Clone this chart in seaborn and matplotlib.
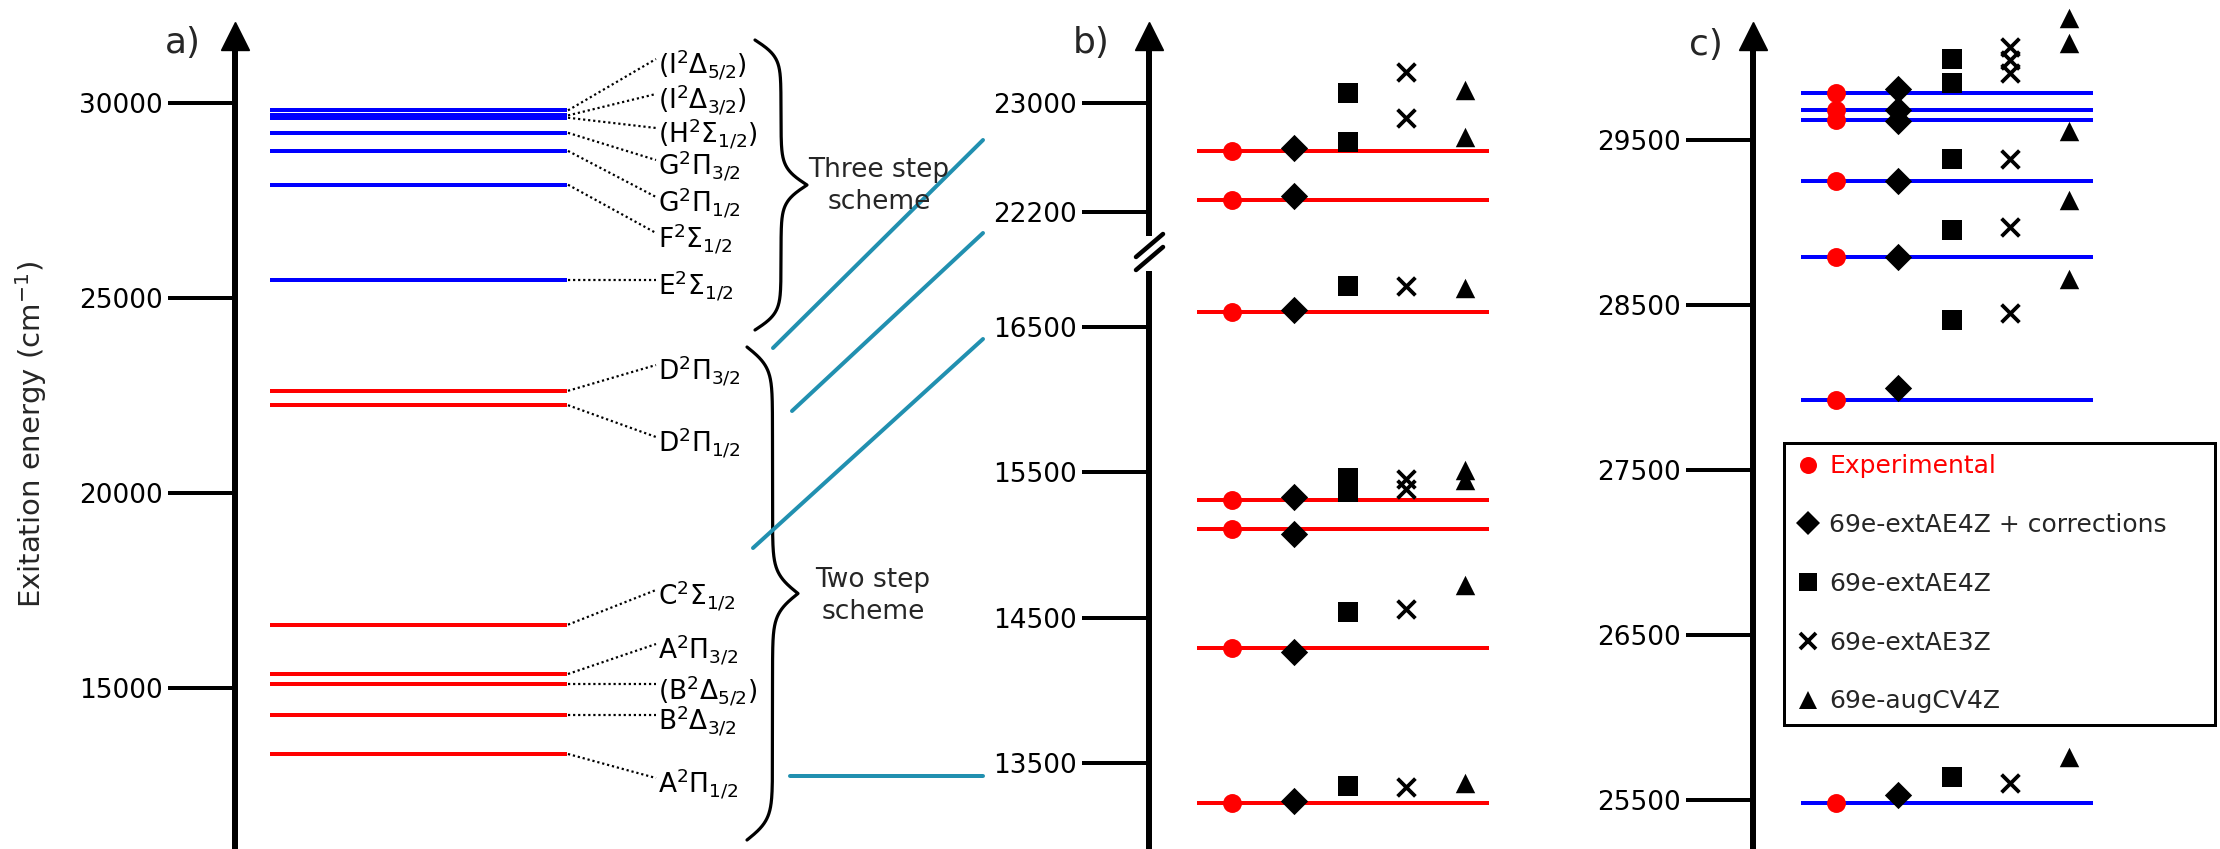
import numpy as np
import pandas as pd
import matplotlib
matplotlib.use("Agg")
import matplotlib.pyplot as plt
import matplotlib.transforms as mtransforms
from matplotlib.lines import Line2D
import seaborn as sns

sns.set_theme(style="white")
plt.rcParams["font.family"] = ["DejaVu Sans"]
plt.rcParams["mathtext.fontset"] = "dejavusans"

# ---------------------------------------------------------------- data
# Panel a: experimental level scheme (cm^-1)
two_step_states = [r"A$^2\Pi_{1/2}$", r"B$^2\Delta_{3/2}$", r"(B$^2\Delta_{5/2}$)",
                   r"A$^2\Pi_{3/2}$", r"C$^2\Sigma_{1/2}$", r"D$^2\Pi_{1/2}$",
                   r"D$^2\Pi_{3/2}$"]
three_step_states = [r"E$^2\Sigma_{1/2}$", r"F$^2\Sigma_{1/2}$", r"G$^2\Pi_{1/2}$",
                     r"G$^2\Pi_{3/2}$", r"(H$^2\Sigma_{1/2}$)", r"(I$^2\Delta_{3/2}$)",
                     r"(I$^2\Delta_{5/2}$)"]
two_step_levels = [13308, 14308, 15094, 15359, 16624, 22251, 22620]
three_step_levels = [25473, 27904, 28771, 29235, 29622, 29682, 29811]
# where each state name sits on the energy axis of panel a
two_step_label_at = [12692, 14308, 15094, 16128, 17513, 21436, 23282]
three_step_label_at = [25473, 26667, 27590, 28538, 29359, 30231, 31128]

methods = ["Experimental", "69e-extAE4Z + corrections", "69e-extAE4Z",
           "69e-extAE3Z", "69e-augCV4Z"]

# Panel b: two-step states (order as two_step_states)
b_exp = [13219, 14288, 15110, 15310, 16608, 22286, 22648]
b_corr = [13235, 14260, 15073, 15328, 16619, 22317, 22667]
b_ae4z = [13341, 14540, 15367, 15463, 16785, 22716, 23071]
b_ae3z = [13334, 14557, 15384, 15452, 16787, 22887, 23230]
b_cv4z = [13357, 14724, 15448, 15517, 16771, 22753, 23095]

# Panel c: three-step states (order as three_step_states)
c_exp = [25478, 27924, 28789, 29252, 29622, 29681, 29788]
c_corr = [25528, 27998, 28793, 29252, 29616, 29683, 29810]
c_ae4z = [25639, 28409, 28955, 29384, np.nan, 29848, 29990]
c_ae3z = [25603, 28453, 28975, 29384, 29905, 29986, 30067]
c_cv4z = [25757, 28660, 29137, 29557, np.nan, 30087, 30239]

a_ticks = [15000, 20000, 25000, 30000]
b_ticks_low = [13500, 14500, 15500, 16500]
b_ticks_high = [22200, 23000]
c_ticks = [25500, 26500, 27500, 28500, 29500]

# ---------------------------------------------------------------- style
RED, BLUE, TEAL = "#ff0000", "#0000ff", "#2190b0"
W, H, DPI = 2220, 849, 100
PT = 0.72  # points per pixel at this dpi
FS = 19

marker_spec = {
    "Experimental": dict(marker="o", color=RED, ms=13.6),
    "69e-extAE4Z + corrections": dict(marker="D", color="black", ms=13.9),
    "69e-extAE4Z": dict(marker="s", color="black", ms=14.2),
    "69e-extAE3Z": dict(marker="x", color="black", ms=12.8),
    "69e-augCV4Z": dict(marker="^", color="black", ms=14.0),
}
column_x = dict(zip(methods, [83, 145, 199, 257, 316]))
line_span = (48, 340)

fig = plt.figure(figsize=(W / DPI, H / DPI), dpi=DPI)


def px_axes(left, top, right, bottom):
    return fig.add_axes([left / W, 1 - bottom / H, (right - left) / W, (bottom - top) / H])


def energy_axis(ax, ticks, arrow=True):
    for side in ("top", "right", "bottom"):
        ax.spines[side].set_visible(False)
    ax.spines["left"].set_linewidth(6 * PT)
    ax.spines["left"].set_color("black")
    ax.set_yticks(ticks)
    ax.set_yticklabels([str(t) for t in ticks])
    ax.tick_params(axis="y", left=True, direction="out", length=67 * PT, width=4 * PT,
                   labelsize=FS, pad=4, colors="black")
    ax.set_xticks([])
    ax.patch.set_alpha(0)
    ax.grid(False)
    if arrow:
        tr = mtransforms.offset_copy(ax.transAxes, fig=fig, y=12.5, units="dots")
        ax.plot([0], [1], marker="^", ms=28 * PT, color="black", transform=tr,
                clip_on=False)


def draw_markers(ax, df):
    for m in methods:
        sub = df[(df["method"] == m) & df["energy"].notna()]
        if sub.empty:
            continue
        spec = marker_spec[m]
        kw = dict(marker=spec["marker"], s=spec["ms"] ** 2, color=spec["color"],
                  legend=False, zorder=4, ax=ax)
        kw["linewidth"] = 3.8 * PT if spec["marker"] == "x" else 0
        sns.scatterplot(data=sub, x="x", y="energy", **kw)
        ax.collections[-1].set_clip_on(False)


def long_table(states, series):
    rows = []
    for m, vals in zip(methods, series):
        for st, v in zip(states, vals):
            rows.append(dict(state=st, method=m, energy=v, x=column_x[m]))
    return pd.DataFrame(rows)


# ---------------------------------------------------------------- panel a
ax_a = px_axes(235, 48, 1000, 849)
ax_a.set_xlim(0, 765)
ax_a.set_ylim(10872, 31410)
energy_axis(ax_a, a_ticks)
label_shift = mtransforms.offset_copy(ax_a.transData, fig=fig, y=-6, units="dots")

for levels, labels, anchors, col in ((two_step_levels, two_step_states, two_step_label_at, RED),
                                     (three_step_levels, three_step_states, three_step_label_at, BLUE)):
    ax_a.hlines(levels, 35, 332, color=col, lw=4 * PT, zorder=3)
    for lv, lab, an in zip(levels, labels, anchors):
        ax_a.plot([333, 421], [lv, an], ls=(0, (1, 1.3)), color="black", lw=2.2 * PT,
                  zorder=2)
        ax_a.text(423, an, lab, fontsize=19, ha="left", va="center",
                  color="black", transform=label_shift)

fig.text(31 / W, 1 - 434 / H, "Exitation energy (cm$^{-1}$)", rotation=90,
         ha="center", va="center", fontsize=21)

# ---------------------------------------------------------------- panel b
df_b = long_table(two_step_states, [b_exp, b_corr, b_ae4z, b_ae3z, b_cv4z])
ax_bh = px_axes(1149, 48, 1560, 233)
ax_bl = px_axes(1149, 274, 1560, 849)
ax_bh.set_ylim(22046, 23404)
ax_bl.set_ylim(12905, 16867)
for ax, ticks, arrow, lo, hi in ((ax_bh, b_ticks_high, True, 20000, 30000),
                                 (ax_bl, b_ticks_low, False, 0, 20000)):
    ax.set_xlim(0, 411)
    energy_axis(ax, ticks, arrow)
    exp_part = [v for v in b_exp if lo <= v < hi]
    ax.hlines(exp_part, *line_span, color=RED, lw=4 * PT, zorder=2)
    part = df_b[(df_b["energy"] >= lo) & (df_b["energy"] < hi)]
    draw_markers(ax, part)
    ax.set_xlabel("")
    ax.set_ylabel("")
    ax.set_xlim(0, 411)

# ---------------------------------------------------------------- panel c
df_c = long_table(three_step_states, [c_exp, c_corr, c_ae4z, c_ae3z, c_cv4z])
ax_c = px_axes(1753, 48, 2220, 849)
ax_c.set_ylim(25201, 30059)
energy_axis(ax_c, c_ticks)
ax_c.hlines(c_exp, *line_span, color=BLUE, lw=4 * PT, zorder=2)
draw_markers(ax_c, df_c)
ax_c.set_xlim(0, 467)
ax_c.set_xlabel("")
ax_c.set_ylabel("")

handles = []
for m in methods:
    spec = marker_spec[m]
    handles.append(Line2D([], [], ls="", marker=spec["marker"], color=spec["color"],
                          ms=spec["ms"] * 0.9,
                          mew=(3.8 * PT if spec["marker"] == "x" else 0)))
leg = ax_c.legend(handles, methods, loc="upper left", mode="expand",
                  bbox_to_anchor=(1784 / W, (H - 723) / H, (2215 - 1784) / W, 280 / H),
                  bbox_transform=fig.transFigure,
                  fontsize=FS - 1, frameon=True, fancybox=False, framealpha=1,
                  edgecolor="black", labelspacing=1.39, borderpad=0.45,
                  handletextpad=0.35, handlelength=1.0, borderaxespad=0)
leg.get_frame().set_linewidth(3 * PT)
leg.get_texts()[0].set_color(RED)

# ---------------------------------------------------------------- decorations
ov = fig.add_axes([0, 0, 1, 1])
ov.set_xlim(0, W)
ov.set_ylim(H, 0)
ov.axis("off")
ov.patch.set_alpha(0)


def brace(x0, ya, yb, w, beta):
    t = np.linspace(0, 1, 300)
    f = 1 / (1 + np.exp(-beta * t)) + 1 / (1 + np.exp(-beta * (t - 1))) - 0.5
    half = (yb - ya) / 2
    y = np.concatenate([ya + t * half, yb - t[::-1] * half])
    x = np.concatenate([x0 + w * f, x0 + w * f[::-1]])
    ov.plot(x, y, color="black", lw=3.2 * PT, solid_capstyle="round")


brace(755, 40, 330, 52, 17)
brace(747, 347, 840, 51, 24)
ov.text(879, 186, "Three step\nscheme", ha="center", va="center", fontsize=FS,
        linespacing=1.3)
ov.text(873, 596, "Two step\nscheme", ha="center", va="center", fontsize=FS,
        linespacing=1.3)

# guide lines from the overview to the broken axis
for (x0, y0), (x1, y1) in (((773, 348), (983, 140)), ((792, 411), (983, 233)),
                           ((753, 548), (983, 339)), ((790, 776), (983, 776))):
    ov.plot([x0, x1], [y0, y1], color=TEAL, lw=4 * PT)

# axis break marks
for dy in (0, 13):
    ov.plot([1136, 1163], [257 + dy, 234 + dy], color="black", lw=4.5 * PT)

for x, y, s in ((183, 43, "a)"), (1091, 43, "b)"), (1706, 45, "c)")):
    ov.text(x, y, s, ha="center", va="center", fontsize=26)

fig.savefig("out.png", dpi=DPI)
